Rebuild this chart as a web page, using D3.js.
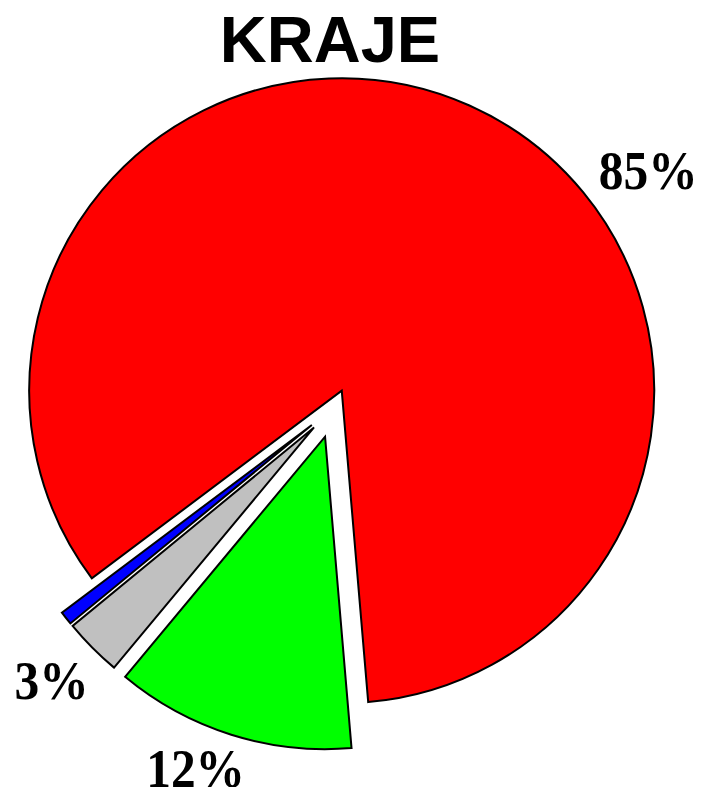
<!DOCTYPE html>
<html>
<head>
<meta charset="utf-8">
<script src="https://cdn.jsdelivr.net/npm/d3@7"></script>
<style>
  html, body { margin: 0; padding: 0; background: #fff; }
  svg { display: block; }
</style>
</head>
<body>
<script>
// ---- data ----
const categories = ["Kategorie 1", "Kategorie 2", "Kategorie 3", "Kategorie 4"];
const values = [83.9, 12.4, 3.0, 0.7];
const labels = ["85%", "12%", "3%", ""];
const title = "KRAJE";

// ---- styles / layout ----
const colors = ["#FF0000", "#00FF00", "#C0C0C0", "#0000FF"];
const W = 706, H = 787;
const cx = 334.3, cy = 407.3, R = 312.5;
const explode = [18.2, 30.8, 28.6, 28.6];
const startDeg = -126.9;
const labelAngleDeg = [53, 201, 226, 0];
const labelRadius = [393, 387, 393, 0];
const labelFont = 52;
const labelScaleX = 0.95, labelScaleY = 1.04;

const svg = d3.select("body").append("svg").attr("width", W).attr("height", H);

svg.append("text")
  .attr("x", 330).attr("y", 62)
  .attr("text-anchor", "middle")
  .style("font-family", "'Liberation Sans', Arial, sans-serif")
  .style("font-weight", "bold")
  .style("font-size", "65px")
  .text(title);

const pie = d3.pie().sort(null).value(d => d)
  .startAngle(startDeg * Math.PI / 180)
  .endAngle(startDeg * Math.PI / 180 + 2 * Math.PI);
const arcs = pie(values);
const arc = d3.arc().innerRadius(0).outerRadius(R);

const g = svg.append("g").attr("transform", `translate(${cx},${cy})`);

g.selectAll("path.slice").data(arcs).enter().append("path")
  .attr("class", "slice")
  .attr("d", arc)
  .attr("transform", (d, i) => {
    const a = (d.startAngle + d.endAngle) / 2;
    return `translate(${explode[i] * Math.sin(a)},${-explode[i] * Math.cos(a)})`;
  })
  .attr("fill", (d, i) => colors[i])
  .attr("stroke", "#000")
  .attr("stroke-width", 2)
  .attr("stroke-linejoin", "miter");

g.selectAll("text.lbl").data(arcs.filter((d, i) => labels[i] !== "")).enter().append("text")
  .attr("class", "lbl")
  .attr("transform", d => {
    const a = labelAngleDeg[d.index] * Math.PI / 180;
    const x = labelRadius[d.index] * Math.sin(a);
    const y = -labelRadius[d.index] * Math.cos(a);
    return `translate(${x},${y}) scale(${labelScaleX},${labelScaleY})`;
  })
  .attr("y", labelFont * 0.338)
  .attr("text-anchor", "middle")
  .style("font-family", "'Liberation Serif', 'Times New Roman', serif")
  .style("font-weight", "bold")
  .style("font-size", labelFont + "px")
  .text(d => labels[d.index]);
</script>
</body>
</html>
